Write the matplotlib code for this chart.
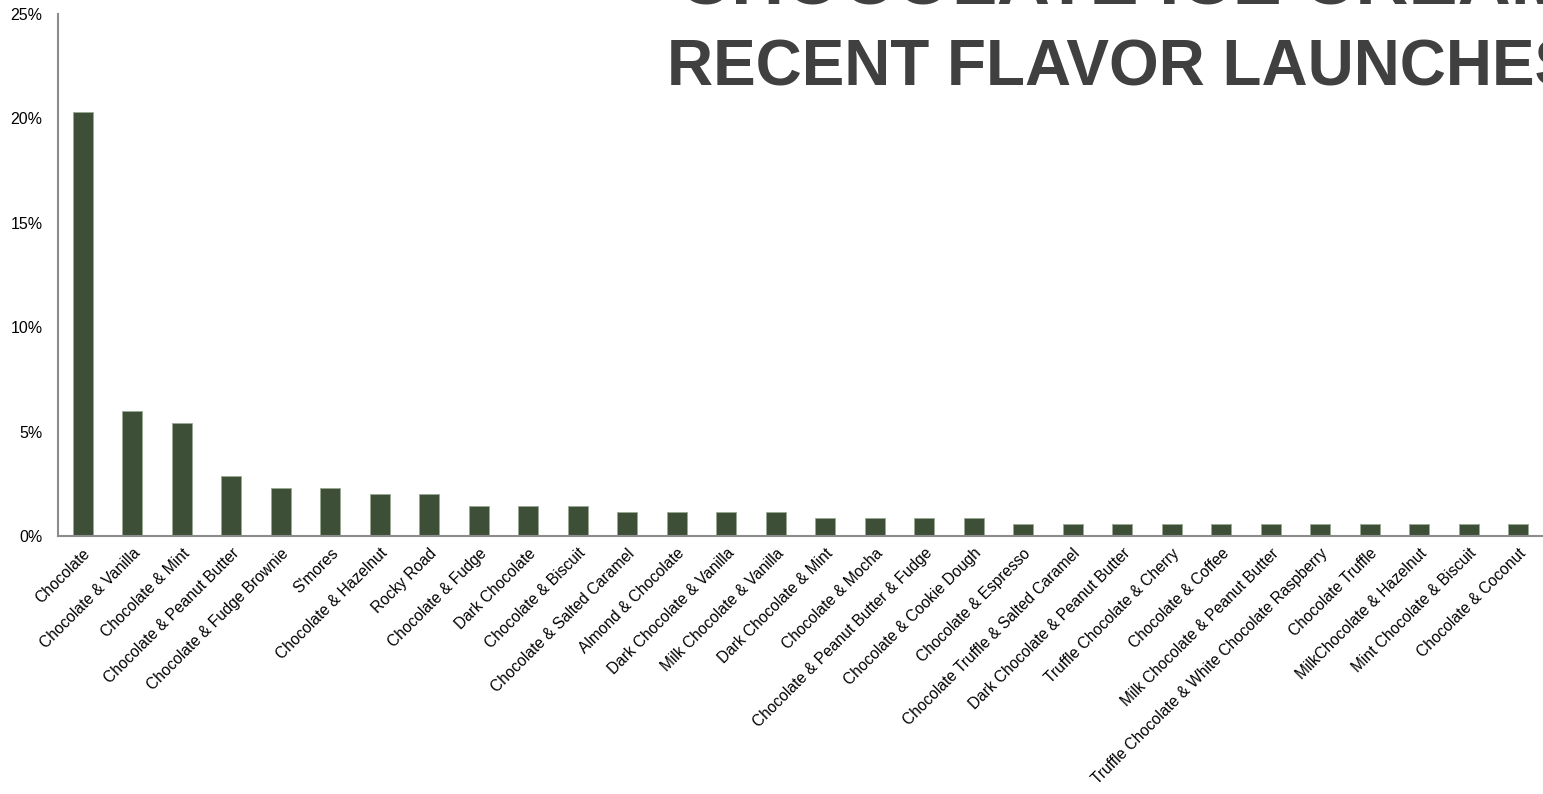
import matplotlib
matplotlib.use("Agg")
import matplotlib.pyplot as plt
from matplotlib.ticker import FuncFormatter, MultipleLocator

plt.rcParams['font.family'] = ['Liberation Sans', 'DejaVu Sans']

flavors = [
    "Chocolate", "Chocolate & Vanilla", "Chocolate & Mint", "Chocolate & Peanut Butter",
    "Chocolate & Fudge Brownie", "S'mores", "Chocolate & Hazelnut", "Rocky Road",
    "Chocolate & Fudge", "Dark Chocolate", "Chocolate & Biscuit", "Chocolate & Salted Caramel",
    "Almond & Chocolate", "Dark Chocolate & Vanilla", "Milk Chocolate & Vanilla",
    "Dark Chocolate & Mint", "Chocolate & Mocha", "Chocolate & Peanut Butter & Fudge",
    "Chocolate & Cookie Dough", "Chocolate & Espresso", "Chocolate Truffle & Salted Caramel",
    "Dark Chocolate & Peanut Butter", "Truffle Chocolate & Cherry", "Chocolate & Coffee",
    "Milk Chocolate & Peanut Butter", "Truffle Chocolate & White Chocolate Raspberry",
    "Chocolate Truffle", "MilkChocolate & Hazelnut", "Mint Chocolate & Biscuit",
    "Chocolate & Coconut",
]
shares = [
    20.3, 6.0, 5.4, 2.85, 2.3, 2.3, 2.0, 2.0, 1.45, 1.45, 1.45, 1.15, 1.15, 1.15, 1.15,
    0.86, 0.86, 0.86, 0.86, 0.57, 0.57, 0.57, 0.57, 0.57, 0.57, 0.57, 0.57, 0.57, 0.57, 0.57,
]
title_lines = ["CHOCOLATE ICE CREAM", "RECENT FLAVOR LAUNCHES"]

W, H = 1543, 794
fig = plt.figure(figsize=(W / 100, H / 100), dpi=100)
ax = fig.add_axes([58 / W, 1 - 536 / H, (W - 58) / W, (536 - 14) / H])

x = range(len(flavors))
ax.bar(x, shares, width=0.4, color="#3d5037", edgecolor="#9aa894", linewidth=0.6)

ax.set_xlim(-0.5, len(flavors) - 0.5)
ax.set_ylim(0, 25)
ax.yaxis.set_major_locator(MultipleLocator(5))
ax.yaxis.set_major_formatter(FuncFormatter(lambda v, p: f"{v:.0f}%"))
ax.set_xticks(list(x))
ax.set_xticklabels(flavors, rotation=45, ha="right", rotation_mode="anchor", fontsize=11.2)
ax.tick_params(axis="x", length=0, pad=7)
ax.tick_params(axis="y", length=0, pad=11, labelsize=11.5)

for s in ["top", "right"]:
    ax.spines[s].set_visible(False)
for s in ["left", "bottom"]:
    ax.spines[s].set_color("#8c8c8c")
    ax.spines[s].set_linewidth(1.5)

fig.text(667 / W, 1 - 86 / H, title_lines[1], fontsize=46, fontweight="bold",
         color="#404040", ha="left", va="baseline")
fig.text(678 / W, 1 - 4 / H, title_lines[0], fontsize=53, fontweight="bold",
         color="#404040", ha="left", va="baseline")

fig.savefig("out.png", dpi=100)
